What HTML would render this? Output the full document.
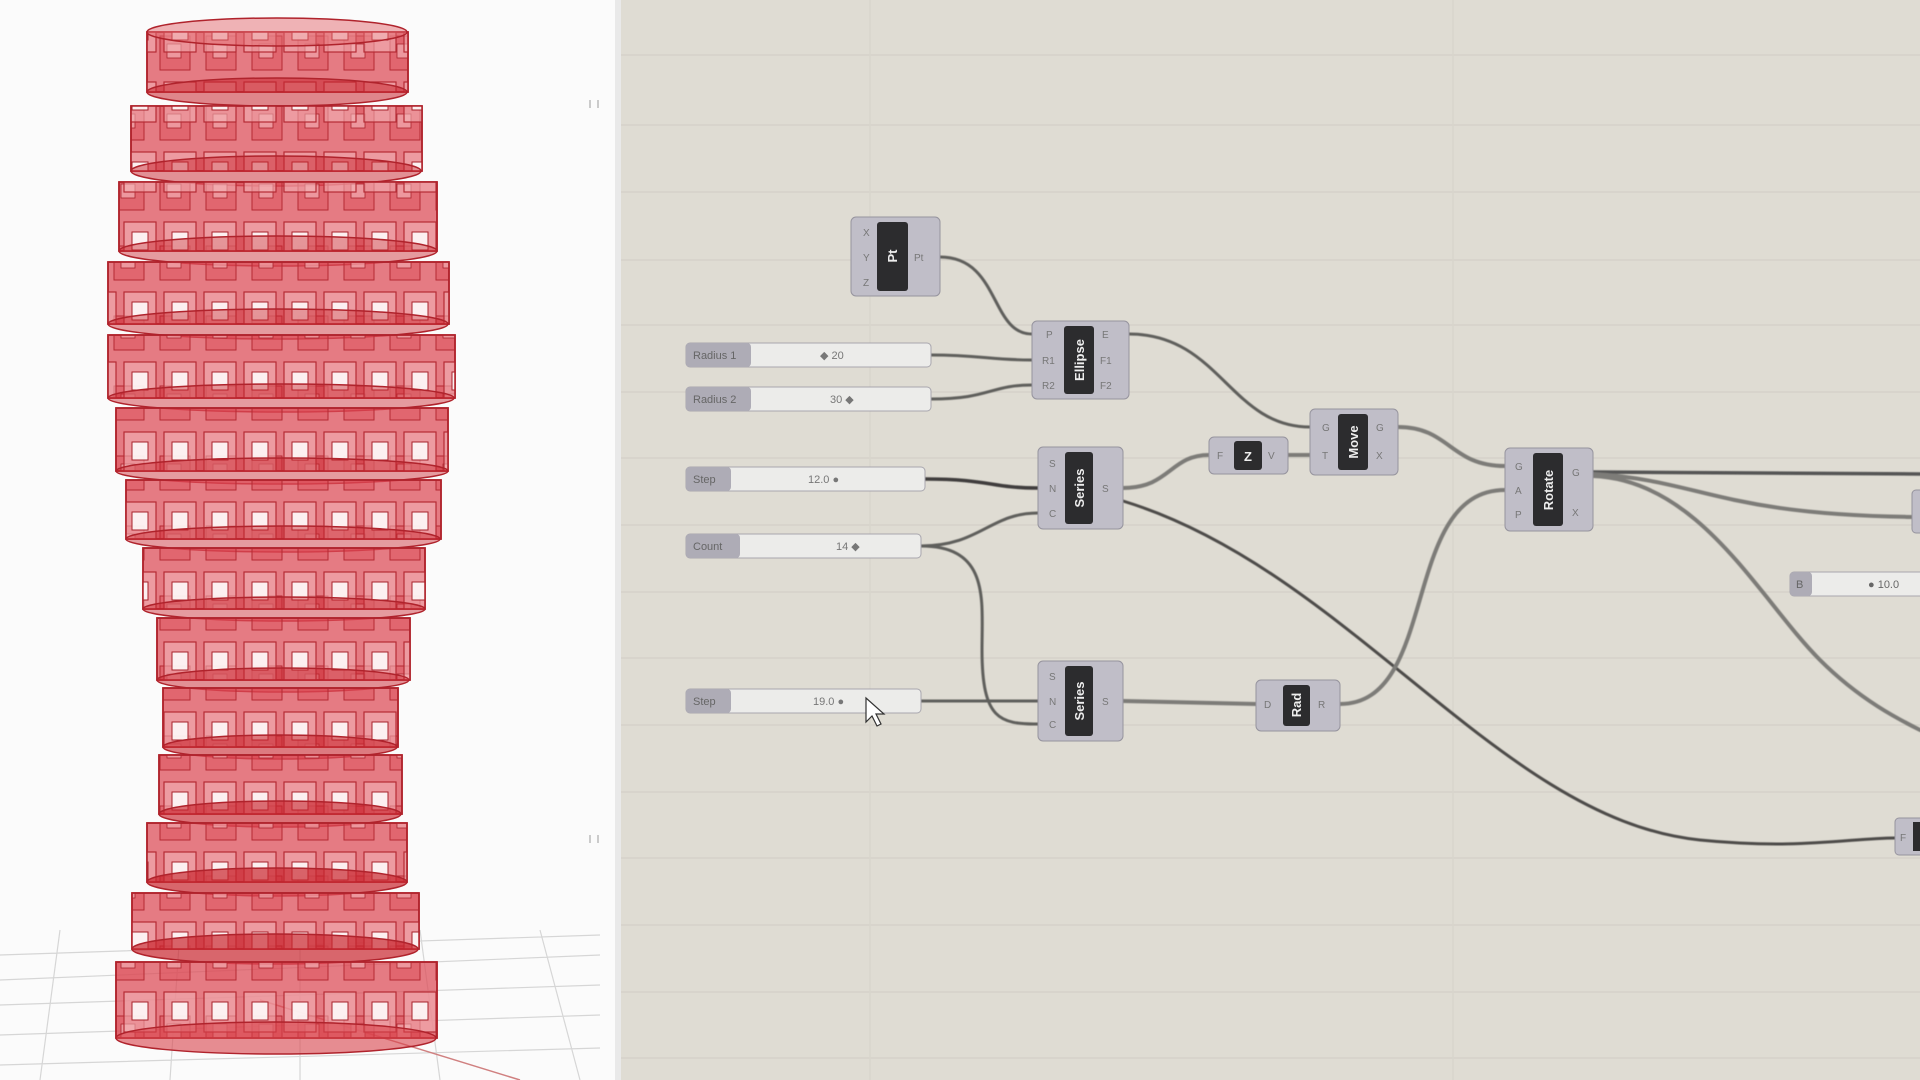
<!DOCTYPE html>
<html><head><meta charset="utf-8"><style>
html,body{margin:0;padding:0;width:1920px;height:1080px;overflow:hidden;background:#fff}
svg{display:block}
text{font-family:"Liberation Sans",sans-serif}
</style></head><body>
<svg width="1920" height="1080" viewBox="0 0 1920 1080" xmlns="http://www.w3.org/2000/svg">
<defs>
<pattern id="win" x="0" y="0" width="40" height="70" patternUnits="userSpaceOnUse">
<rect x="4" y="12" width="32" height="40" fill="#f3b6ba" fill-opacity="0.55" stroke="#b52a33" stroke-width="1.2"/>
<rect x="12" y="22" width="16" height="18" fill="#ffffff" fill-opacity="0.85" stroke="#a8222b" stroke-width="1"/>
</pattern>
<pattern id="win2" x="18" y="30" width="46" height="70" patternUnits="userSpaceOnUse">
<rect x="4" y="6" width="30" height="34" fill="#d8404a" fill-opacity="0.35" stroke="#b52a33" stroke-width="1"/>
<rect x="11" y="14" width="14" height="14" fill="#f7c9cc" fill-opacity="0.5" stroke="#a8222b" stroke-width="0.8"/>
</pattern>
<filter id="bl"><feGaussianBlur stdDeviation="0.6"/></filter>
</defs>
<rect x="0" y="0" width="620" height="1080" fill="#fbfbfb"/>
<g stroke="#d6d6d6" stroke-width="1.2" fill="none">
<path d="M0 980 L600 955 M0 1005 L600 985 M0 1035 L600 1015 M0 1065 L600 1048 M60 930 L40 1080 M180 930 L170 1080 M300 930 L300 1080 M420 930 L440 1080 M540 930 L580 1080 M0 955 L600 935"/>
</g>
<path d="M260 1000 L520 1080" stroke="#d08080" stroke-width="1.5"/>
<path d="M590 100 l0 8 M598 100 l0 8 M590 835 l0 8 M598 835 l0 8" stroke="#bbb" stroke-width="1.5"/>
<g stroke="#b0232c" stroke-width="1.5">
<g><rect x="147" y="32" width="261" height="60" fill="#dc4a54" fill-opacity="0.72"/><rect x="147" y="32" width="261" height="60" fill="url(#win2)"/><rect x="147" y="32" width="261" height="60" fill="url(#win)"/><ellipse cx="277" cy="32" rx="130" ry="14" fill="#e36a70" fill-opacity="0.5"/><ellipse cx="277" cy="92" rx="130" ry="14" fill="#c9262f" fill-opacity="0.55"/></g>
<g><rect x="131" y="106" width="291" height="65" fill="#dc4a54" fill-opacity="0.72"/><rect x="131" y="106" width="291" height="65" fill="url(#win2)"/><rect x="131" y="106" width="291" height="65" fill="url(#win)"/><ellipse cx="276" cy="171" rx="145" ry="15" fill="#c9262f" fill-opacity="0.5"/></g>
<g><rect x="119" y="182" width="318" height="69" fill="#dc4a54" fill-opacity="0.72"/><rect x="119" y="182" width="318" height="69" fill="url(#win2)"/><rect x="119" y="182" width="318" height="69" fill="url(#win)"/><ellipse cx="278" cy="251" rx="159" ry="15" fill="#c9262f" fill-opacity="0.45"/></g>
<g><rect x="108" y="262" width="341" height="62" fill="#dc4a54" fill-opacity="0.72"/><rect x="108" y="262" width="341" height="62" fill="url(#win2)"/><rect x="108" y="262" width="341" height="62" fill="url(#win)"/><ellipse cx="278" cy="324" rx="170" ry="15" fill="#c9262f" fill-opacity="0.45"/></g>
<g><rect x="108" y="335" width="347" height="63" fill="#dc4a54" fill-opacity="0.72"/><rect x="108" y="335" width="347" height="63" fill="url(#win2)"/><rect x="108" y="335" width="347" height="63" fill="url(#win)"/><ellipse cx="281" cy="398" rx="173" ry="14" fill="#c9262f" fill-opacity="0.45"/></g>
<g><rect x="116" y="408" width="332" height="63" fill="#dc4a54" fill-opacity="0.72"/><rect x="116" y="408" width="332" height="63" fill="url(#win2)"/><rect x="116" y="408" width="332" height="63" fill="url(#win)"/><ellipse cx="282" cy="471" rx="166" ry="13" fill="#c9262f" fill-opacity="0.45"/></g>
<g><rect x="126" y="480" width="315" height="59" fill="#dc4a54" fill-opacity="0.72"/><rect x="126" y="480" width="315" height="59" fill="url(#win2)"/><rect x="126" y="480" width="315" height="59" fill="url(#win)"/><ellipse cx="283" cy="539" rx="157" ry="13" fill="#c9262f" fill-opacity="0.45"/></g>
<g><rect x="143" y="548" width="282" height="61" fill="#dc4a54" fill-opacity="0.72"/><rect x="143" y="548" width="282" height="61" fill="url(#win2)"/><rect x="143" y="548" width="282" height="61" fill="url(#win)"/><ellipse cx="284" cy="609" rx="141" ry="12" fill="#c9262f" fill-opacity="0.45"/></g>
<g><rect x="157" y="618" width="253" height="62" fill="#dc4a54" fill-opacity="0.72"/><rect x="157" y="618" width="253" height="62" fill="url(#win2)"/><rect x="157" y="618" width="253" height="62" fill="url(#win)"/><ellipse cx="283" cy="680" rx="126" ry="12" fill="#c9262f" fill-opacity="0.5"/></g>
<g><rect x="163" y="688" width="235" height="59" fill="#dc4a54" fill-opacity="0.72"/><rect x="163" y="688" width="235" height="59" fill="url(#win2)"/><rect x="163" y="688" width="235" height="59" fill="url(#win)"/><ellipse cx="280" cy="747" rx="117" ry="12" fill="#c9262f" fill-opacity="0.6"/></g>
<g><rect x="159" y="755" width="243" height="59" fill="#dc4a54" fill-opacity="0.72"/><rect x="159" y="755" width="243" height="59" fill="url(#win2)"/><rect x="159" y="755" width="243" height="59" fill="url(#win)"/><ellipse cx="280" cy="814" rx="121" ry="13" fill="#c9262f" fill-opacity="0.65"/></g>
<g><rect x="147" y="823" width="260" height="59" fill="#dc4a54" fill-opacity="0.72"/><rect x="147" y="823" width="260" height="59" fill="url(#win2)"/><rect x="147" y="823" width="260" height="59" fill="url(#win)"/><ellipse cx="277" cy="882" rx="130" ry="14" fill="#c9262f" fill-opacity="0.7"/></g>
<g><rect x="132" y="893" width="287" height="56" fill="#dc4a54" fill-opacity="0.72"/><rect x="132" y="893" width="287" height="56" fill="url(#win2)"/><rect x="132" y="893" width="287" height="56" fill="url(#win)"/><ellipse cx="275" cy="949" rx="143" ry="15" fill="#c9262f" fill-opacity="0.7"/></g>
<g><rect x="116" y="962" width="321" height="76" fill="#dc4a54" fill-opacity="0.72"/><rect x="116" y="962" width="321" height="76" fill="url(#win2)"/><rect x="116" y="962" width="321" height="76" fill="url(#win)"/><ellipse cx="276" cy="1038" rx="160" ry="16" fill="#d8434b" fill-opacity="0.6"/></g>
</g>
<rect x="615" y="0" width="6" height="1080" fill="#e9e9e9"/>
<rect x="621" y="0" width="1299" height="1080" fill="#dfdcd3"/>
<g stroke="#d5d2c9" stroke-width="1.5">
<path d="M621 55 H1920 M621 125 H1920 M621 192 H1920 M621 260 H1920 M621 325 H1920 M621 392 H1920 M621 458 H1920 M621 525 H1920 M621 592 H1920 M621 658 H1920 M621 725 H1920 M621 792 H1920 M621 858 H1920 M621 925 H1920 M621 992 H1920 M621 1058 H1920"/>
<path d="M870 0 V1080 M1453 0 V1080" stroke="#d8d5cc"/>
</g>
<g fill="none" stroke="#5f5e5c" stroke-width="3" stroke-linecap="round" filter="url(#bl)">
<path d="M940 257 C1000 257 990 334 1032 334"/>
<path d="M931 355 C980 355 990 360 1032 360"/>
<path d="M931 399 C990 399 990 385 1032 385"/>
<path d="M1129 334 C1220 334 1230 427 1310 427"/>
<path d="M925 479 C990 479 990 488 1038 488" stroke="#3f3e3c" stroke-width="3.5"/>
<path d="M921 546 C980 546 990 513 1038 513"/>
<path d="M921 546 C990 546 982 600 982 650 C982 720 1000 724 1038 724"/>
<path d="M921 701 L1038 701"/>
<path d="M1123 488 C1170 488 1170 455 1209 455" stroke="#7d7c78" stroke-width="4"/>
<path d="M1123 501 C1350 570 1500 820 1700 840 C1800 850 1850 838 1895 838" stroke="#4d4c4a"/>
<path d="M1288 455 L1310 455" stroke="#7d7c78" stroke-width="4"/>
<path d="M1398 427 C1450 427 1450 466 1505 466" stroke="#7d7c78" stroke-width="4"/>
<path d="M1123 701 L1256 704" stroke="#7d7c78" stroke-width="4"/>
<path d="M1340 704 C1440 704 1400 490 1505 490" stroke="#7d7c78" stroke-width="4"/>
<path d="M1593 472 L1920 474" stroke="#555" stroke-width="3.5"/>
<path d="M1593 474 C1700 480 1720 515 1915 517" stroke="#7d7c78" stroke-width="4"/>
<path d="M1593 476 C1700 480 1760 600 1820 660 C1860 700 1900 720 1920 730" stroke="#7d7c78" stroke-width="4"/>
</g>
<g font-size="10" fill="#777">
<rect x="851" y="217" width="89" height="79" rx="5" fill="#c0bec8" stroke="#96949e"/>
<rect x="877" y="222" width="31" height="69" rx="3" fill="#2c2c2e"/>
<text x="897" y="256" transform="rotate(-90 897 256)" text-anchor="middle" fill="#eee" font-weight="bold" font-size="13">Pt</text>
<text x="863" y="236">X</text><text x="863" y="261">Y</text><text x="863" y="286">Z</text><text x="914" y="261">Pt</text>
<rect x="1032" y="321" width="97" height="78" rx="5" fill="#c0bec8" stroke="#96949e"/>
<rect x="1064" y="326" width="30" height="68" rx="3" fill="#2c2c2e"/>
<text x="1084" y="360" transform="rotate(-90 1084 360)" text-anchor="middle" fill="#eee" font-weight="bold" font-size="13">Ellipse</text>
<text x="1046" y="338">P</text><text x="1042" y="364">R1</text><text x="1042" y="389">R2</text>
<text x="1102" y="338">E</text><text x="1100" y="364">F1</text><text x="1100" y="389">F2</text>
<rect x="1038" y="447" width="85" height="82" rx="5" fill="#c0bec8" stroke="#96949e"/>
<rect x="1065" y="452" width="28" height="72" rx="3" fill="#2c2c2e"/>
<text x="1084" y="488" transform="rotate(-90 1084 488)" text-anchor="middle" fill="#eee" font-weight="bold" font-size="13">Series</text>
<text x="1049" y="467">S</text><text x="1049" y="492">N</text><text x="1049" y="517">C</text><text x="1102" y="492">S</text>
<rect x="1038" y="661" width="85" height="80" rx="5" fill="#c0bec8" stroke="#96949e"/>
<rect x="1065" y="666" width="28" height="70" rx="3" fill="#2c2c2e"/>
<text x="1084" y="701" transform="rotate(-90 1084 701)" text-anchor="middle" fill="#eee" font-weight="bold" font-size="13">Series</text>
<text x="1049" y="680">S</text><text x="1049" y="705">N</text><text x="1049" y="728">C</text><text x="1102" y="705">S</text>
<rect x="1209" y="437" width="79" height="37" rx="5" fill="#c0bec8" stroke="#96949e"/>
<rect x="1234" y="441" width="28" height="29" rx="3" fill="#2c2c2e"/>
<text x="1248" y="461" text-anchor="middle" fill="#eee" font-weight="bold" font-size="13">Z</text>
<text x="1217" y="459">F</text><text x="1268" y="459">V</text>
<rect x="1310" y="409" width="88" height="66" rx="5" fill="#c0bec8" stroke="#96949e"/>
<rect x="1338" y="414" width="30" height="56" rx="3" fill="#2c2c2e"/>
<text x="1358" y="442" transform="rotate(-90 1358 442)" text-anchor="middle" fill="#eee" font-weight="bold" font-size="13">Move</text>
<text x="1322" y="431">G</text><text x="1322" y="459">T</text><text x="1376" y="431">G</text><text x="1376" y="459">X</text>
<rect x="1505" y="448" width="88" height="83" rx="5" fill="#c0bec8" stroke="#96949e"/>
<rect x="1533" y="453" width="30" height="73" rx="3" fill="#2c2c2e"/>
<text x="1553" y="490" transform="rotate(-90 1553 490)" text-anchor="middle" fill="#eee" font-weight="bold" font-size="13">Rotate</text>
<text x="1515" y="470">G</text><text x="1515" y="494">A</text><text x="1515" y="518">P</text><text x="1572" y="476">G</text><text x="1572" y="516">X</text>
<rect x="1256" y="680" width="84" height="51" rx="5" fill="#c0bec8" stroke="#96949e"/>
<rect x="1283" y="685" width="27" height="41" rx="3" fill="#2c2c2e"/>
<text x="1301" y="705" transform="rotate(-90 1301 705)" text-anchor="middle" fill="#eee" font-weight="bold" font-size="13">Rad</text>
<text x="1264" y="708">D</text><text x="1318" y="708">R</text>
<rect x="1912" y="490" width="20" height="43" rx="4" fill="#c0bec8" stroke="#96949e"/>
<rect x="1895" y="818" width="40" height="37" rx="4" fill="#c0bec8" stroke="#96949e"/>
<rect x="1913" y="822" width="10" height="29" fill="#2c2c2e"/>
<text x="1900" y="841">F</text>
</g>
<g font-size="11">
<g><rect x="686" y="343" width="245" height="24" rx="4" fill="#ececea" stroke="#a8a6ae"/><rect x="686" y="343" width="65" height="24" rx="4" fill="#aeacb6"/><text x="693" y="359" fill="#666">Radius 1</text><text x="820" y="359" fill="#777">◆ 20</text></g>
<g><rect x="686" y="387" width="245" height="24" rx="4" fill="#ececea" stroke="#a8a6ae"/><rect x="686" y="387" width="65" height="24" rx="4" fill="#aeacb6"/><text x="693" y="403" fill="#666">Radius 2</text><text x="830" y="403" fill="#777">30 ◆</text></g>
<g><rect x="686" y="467" width="239" height="24" rx="4" fill="#ececea" stroke="#a8a6ae"/><rect x="686" y="467" width="45" height="24" rx="4" fill="#aeacb6"/><text x="693" y="483" fill="#666">Step</text><text x="808" y="483" fill="#777">12.0 ●</text></g>
<g><rect x="686" y="534" width="235" height="24" rx="4" fill="#ececea" stroke="#a8a6ae"/><rect x="686" y="534" width="54" height="24" rx="4" fill="#aeacb6"/><text x="693" y="550" fill="#666">Count</text><text x="836" y="550" fill="#777">14 ◆</text></g>
<g><rect x="686" y="689" width="235" height="24" rx="4" fill="#ececea" stroke="#a8a6ae"/><rect x="686" y="689" width="45" height="24" rx="4" fill="#aeacb6"/><text x="693" y="705" fill="#666">Step</text><text x="813" y="705" fill="#777">19.0 ●</text></g>
<g><rect x="1790" y="572" width="140" height="24" rx="4" fill="#ececea" stroke="#a8a6ae"/><rect x="1790" y="572" width="22" height="24" rx="4" fill="#aeacb6"/><text x="1796" y="588" fill="#666">B</text><text x="1868" y="588" fill="#666">● 10.0</text></g>
</g>
<path d="M866 698 L866 722 L872 716 L877 726 L881 724 L876 714 L884 714 Z" fill="#fff" stroke="#333" stroke-width="1.2"/>
</svg>
</body></html>
